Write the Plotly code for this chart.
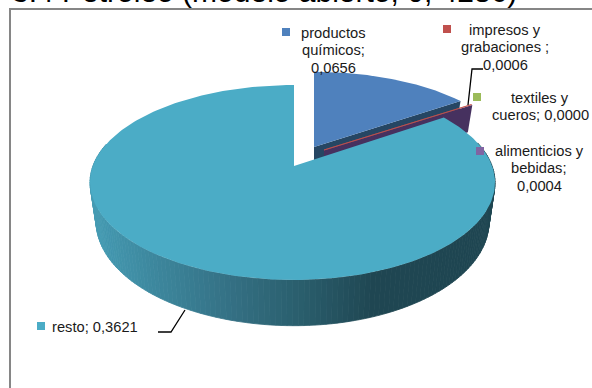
import math
import plotly.graph_objects as go

# Sector shares as printed on the labels
categories = ["productos químicos", "impresos y grabaciones ", "textiles y cueros",
              "alimenticios y bebidas", "resto"]
values = [0.0656, 0.0006, 0.0000, 0.0004, 0.3621]
value_labels = ["0,0656", "0,0006", "0,0000", "0,0004", "0,3621"]
colors = ["#4F81BD", "#C0504D", "#9BBB59", "#8064A2", "#4BACC6"]
wall_colors = ["#264663", "#5E2726", "#4C5C2C", "#46315F", "#1F4652"]
title_text = "3.4 Petróleo (modelo abierto; 0, 4286)"

PERSP = 0.169
DEPTH = 38
WIDTH, HEIGHT = 592, 388

# Pixel-space pivot and radii for the slices: intact part, small pulled slices, pulled-out remainder
PIE_MAIN = dict(cx=314, cy=147, rx=196, ry=88)
PIE_SMALL = dict(cx=324, cy=150, rx=196, ry=88)
PIE_REST = dict(cx=294, cy=166, rx=199.6, ry=94.7, lean=1.5)


def project(pie, theta, radius=1.0):
    """Perspective projection of a point on the pie's top face (theta clockwise from 12 o'clock)."""
    c, s = math.cos(theta), math.sin(theta)
    k = radius / (1 + PERSP * c * radius)
    return pie["cx"] + pie["rx"] * s * k - pie.get("lean", 0) * abs(s), pie["cy"] - pie["ry"] * c * k


def drop(pie, x, y, amount=DEPTH):
    """Matching point on the underside of the disc."""
    k = 1 + PERSP * (y - pie["cy"]) / pie["ry"]
    return pie["cx"] + (x - pie["cx"]) * 0.97, y + amount * k


def wedge(pie, a0, a1, steps=120):
    pts = [(pie["cx"], pie["cy"])]
    pts += [project(pie, a0 + (a1 - a0) * i / steps) for i in range(steps + 1)]
    return pts


def poly(fig, pts, fill, line=None):
    xs = [p[0] for p in pts] + [pts[0][0]]
    ys = [p[1] for p in pts] + [pts[0][1]]
    fig.add_trace(go.Scatter(
        x=xs, y=ys, mode="lines", fill="toself", fillcolor=fill,
        line=dict(width=0.8 if line else 0, color=line or fill),
        hoverinfo="skip", showlegend=False,
    ))


def rim_color(x):
    """Horizontal shading of the outer wall, light on the left and dark towards the right."""
    stops = [(90, (70, 156, 180)), (150, (61, 136, 158)), (230, (52, 112, 132)),
             (300, (42, 94, 108)), (375, (31, 70, 82)), (500, (31, 70, 82))]
    for (x0, c0), (x1, c1) in zip(stops, stops[1:]):
        if x <= x1:
            t = max(0.0, (x - x0) / (x1 - x0))
            rgb = [round(a + (b - a) * t) for a, b in zip(c0, c1)]
            return "rgb({},{},{})".format(*rgb)
    return "rgb(31,70,82)"


total = sum(values)
edges = [0.0]
for v in values:
    edges.append(edges[-1] + 2 * math.pi * v / total)

fig = go.Figure()

# Title sits mostly above the top of the page
fig.add_annotation(xref="paper", yref="paper", x=10 / WIDTH, y=1 + 9 / HEIGHT, text=title_text,
                   showarrow=False, xanchor="left", yanchor="middle",
                   font=dict(family="Liberation Sans", size=30, color="#000000"))

# Chart frame, running past the right and bottom of the page
fig.add_shape(type="rect", x0=10, y0=9, x1=640, y1=440, line=dict(color="#868686", width=2),
              fillcolor="#FFFFFF", layer="below")

# Back part: blue slice with its cut wall
a0, a1 = edges[0], edges[1]
p_end = project(PIE_MAIN, a1)
poly(fig, [(PIE_MAIN["cx"], PIE_MAIN["cy"]), p_end,
           drop(PIE_MAIN, *p_end, 30), (PIE_MAIN["cx"], PIE_MAIN["cy"] + 30)], wall_colors[0])
poly(fig, wedge(PIE_MAIN, a0, a1), colors[0])

# Very small slices, pulled a little out of the pie
small_end = edges[4]
p_wall = project(PIE_SMALL, small_end)
poly(fig, [(PIE_SMALL["cx"], PIE_SMALL["cy"]), p_wall,
           drop(PIE_SMALL, *p_wall, 30), (PIE_SMALL["cx"], PIE_SMALL["cy"] + 30)], wall_colors[3])
poly(fig, wedge(PIE_SMALL, edges[1], edges[2], 6), colors[1], line=colors[1])
poly(fig, wedge(PIE_SMALL, edges[2], edges[3], 6), colors[2])
poly(fig, wedge(PIE_SMALL, edges[3], edges[4], 6), colors[3])

# Remainder slice: shaded outer wall, then its top face
steps = 220
r0, r1 = edges[4], edges[5]
for i in range(steps):
    t0 = r0 + (r1 - r0) * i / steps
    t1 = r0 + (r1 - r0) * (i + 1) / steps
    if math.cos((t0 + t1) / 2) > 0.25:
        continue  # far side of the disc is hidden
    p0, p1 = project(PIE_REST, t0), project(PIE_REST, t1)
    q0, q1 = drop(PIE_REST, *p0), drop(PIE_REST, *p1)
    fill = rim_color((p0[0] + p1[0]) / 2)
    poly(fig, [p0, p1, q1, q0], fill, line=fill)
poly(fig, wedge(PIE_REST, r0, r1, 240), colors[4])

# Data labels with their colour keys and leader lines
label_layout = [
    (["productos", "químicos;", value_labels[0]], 333, 33, (286, 32)),
    (["impresos y", "grabaciones ;", value_labels[1]], 505, 30, (447, 29)),
    (["textiles y", "cueros; " + value_labels[2]], 540, 98, (477, 97)),
    (["alimenticios y", "bebidas;", value_labels[3]], 539, 151, (480, 151)),
    (["resto; " + value_labels[4]], 95, 327, (41, 326)),
]
for (lines, lx, ly, key), color in zip(label_layout, colors):
    for i, line in enumerate(lines):
        fig.add_annotation(x=lx, y=ly + i * 17.3, text=line, showarrow=False,
                           xanchor="center", yanchor="middle",
                           font=dict(family="Liberation Sans", size=14.7, color="#1a1a1a"))
    fig.add_trace(go.Scatter(x=[key[0]], y=[key[1]], mode="markers",
                             marker=dict(symbol="square", size=8, color=color, line=dict(width=0)),
                             hoverinfo="skip", showlegend=False))

for lx, ly in [([483, 472, 468], [69, 69, 105]), ([158, 171, 185], [332, 332, 310])]:
    fig.add_trace(go.Scatter(x=lx, y=ly, mode="lines", line=dict(color="#000000", width=1.3),
                             hoverinfo="skip", showlegend=False))

fig.update_xaxes(range=[0, WIDTH], visible=False, fixedrange=True)
fig.update_yaxes(range=[HEIGHT, 0], visible=False, fixedrange=True)
fig.update_layout(width=WIDTH, height=HEIGHT, margin=dict(l=0, r=0, t=0, b=0),
                  paper_bgcolor="#FFFFFF", plot_bgcolor="#FFFFFF", showlegend=False)

fig.write_html("out.html", config=dict(displayModeBar=False))
